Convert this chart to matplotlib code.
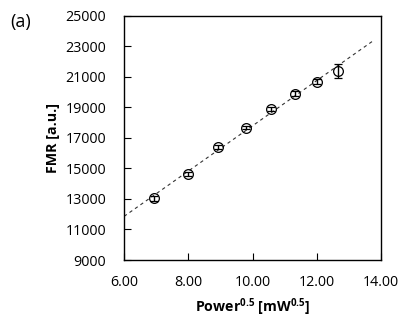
import numpy as np
import matplotlib
matplotlib.use("Agg")
import matplotlib.pyplot as plt

power_sqrt = [6.93, 8.00, 8.94, 9.80, 10.58, 11.31, 12.00, 12.65]
fmr = [13050, 14650, 16420, 17680, 18900, 19900, 20700, 21380]
fmr_err = [150, 150, 150, 120, 150, 150, 150, 450]
x_ticks = [6, 8, 10, 12, 14]
y_ticks = list(range(9000, 25001, 2000))

plt.rcParams['font.family'] = ['Open Sans', 'DejaVu Sans']
plt.rcParams['mathtext.fontset'] = 'custom'
plt.rcParams['mathtext.rm'] = 'Open Sans'
plt.rcParams['mathtext.bf'] = 'Open Sans:bold'

fig = plt.figure(figsize=(4.15, 3.25), dpi=100)
ax = fig.add_axes([0.299, 0.2, 0.619, 0.751])

# linear trendline fitted to data, extended forward
coef = np.polyfit(power_sqrt, fmr, 1)
xl = np.array([6.0, 13.72])
ax.plot(xl, np.polyval(coef, xl), ls=(0, (3, 3)), color='#333333', lw=0.8)

ax.errorbar(power_sqrt, fmr, yerr=fmr_err, fmt='o', ms=7, mfc='none', mec='black',
            mew=0.9, ecolor='black', elinewidth=1.0, capsize=3, capthick=1.0)

ax.set_xlim(6, 14)
ax.set_ylim(9000, 25000)
ax.set_xticks(x_ticks)
ax.set_xticklabels([f"{v:.2f}" for v in x_ticks])
ax.set_yticks(y_ticks)
ax.set_yticklabels([str(v) for v in y_ticks])
ax.tick_params(direction='in', length=5, width=0.8, labelsize=10.3)
ax.tick_params(axis='y', pad=13)
ax.tick_params(axis='x', pad=10.5)
for s in ax.spines.values():
    s.set_linewidth(1.0)

ax.set_xlabel(r'Power$^{\mathbf{0.5}}$ [mW$^{\mathbf{0.5}}$]', fontsize=10.2, fontweight='bold', labelpad=5)
ax.set_ylabel('FMR [a.u.]', fontsize=10.3, fontweight='bold', labelpad=4)

fig.text(0.025, 0.96, '(a)', fontsize=13, va='top', ha='left')

fig.savefig('out.png', dpi=100)
